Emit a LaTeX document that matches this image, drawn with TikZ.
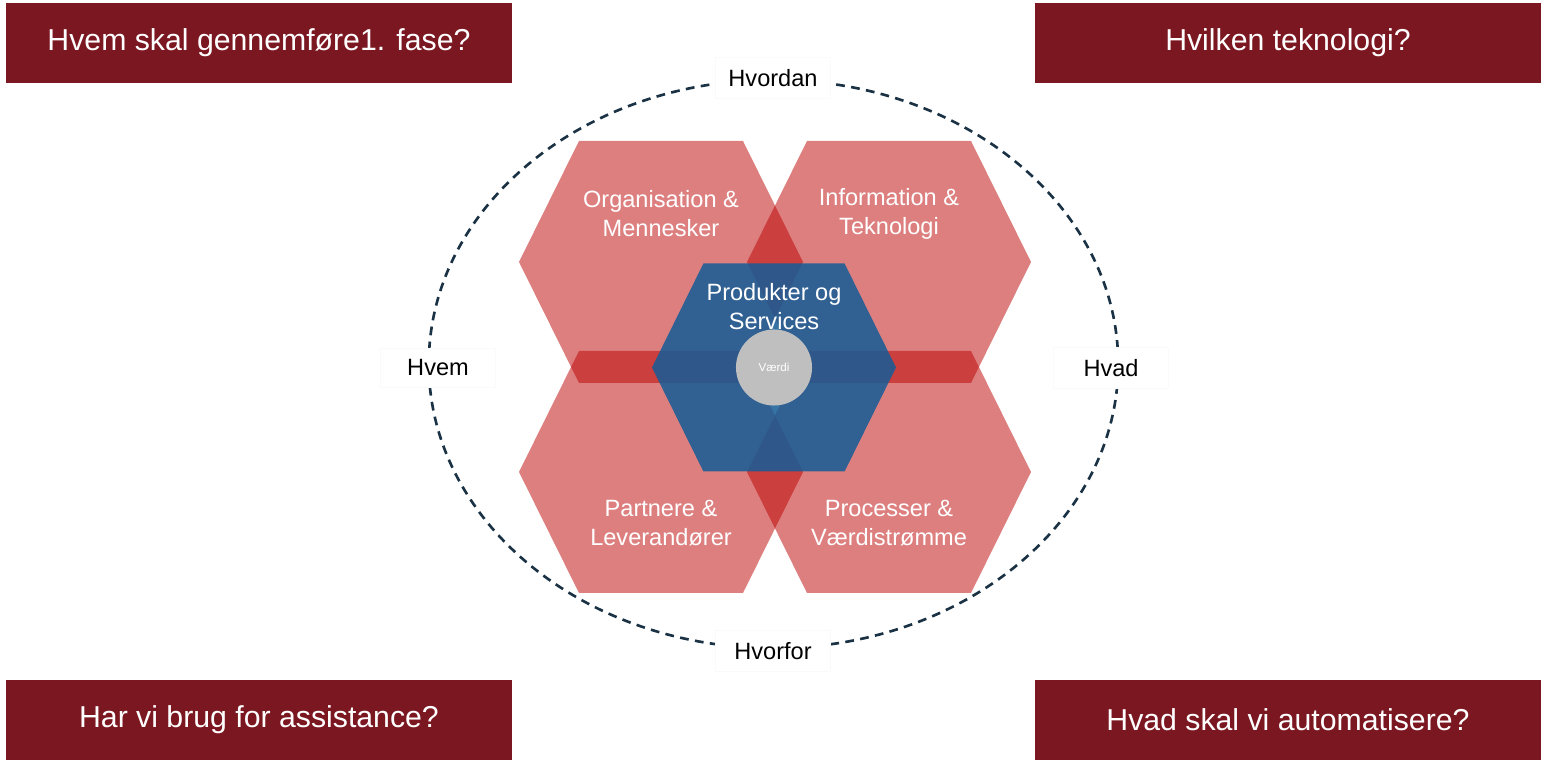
\documentclass[tikz,border=0pt]{standalone}
\usepackage{fontspec}
\setmainfont{Liberation Sans}
\usetikzlibrary{calc}
\definecolor{boxred}{RGB}{123,23,32}
\definecolor{hexred}{RGB}{187,0,0}
\definecolor{hexblue}{RGB}{21,92,150}
\definecolor{valgray}{RGB}{191,191,191}
\definecolor{ringnavy}{RGB}{26,50,68}
\tikzset{
  cornerbox/.style={fill=boxred,text=white,minimum width=5.06cm,minimum height=.8cm,
    font=\fontsize{8.6pt}{10pt}\selectfont},
  redhex/.style={fill=hexred,fill opacity=.5},
  bluehex/.style={fill=hexblue,fill opacity=.86},
  hextext/.style={text=white,align=center,font=\fontsize{6.7pt}{8.25pt}\selectfont},
  ringlabel/.style={fill=white,draw=black!2,line width=.3pt,minimum width=1.15cm,
    minimum height=.39cm,font=\fontsize{6.7pt}{8pt}\selectfont}
}
\begin{document}
\begin{tikzpicture}[x=0.01cm,y=-0.01cm]
      \useasboundingbox(0,0)rectangle(1541,764);
      % corner questions
      \node[cornerbox](fase)at(259,43){Hvem skal gennemføre1. fase?};
      \node[cornerbox](tek)at(1288,43){Hvilken teknologi?};
      \node[cornerbox](assist)at(259,720){Har vi brug for assistance?};
      \node[cornerbox](auto)at(1288,720){Hvad skal vi automatisere?};
      % ring
      \draw[ringnavy,line width=.75pt,dash pattern=on 2.5pt off 1.8pt](773.5,364)ellipse[x radius=3.445cm,y radius=2.84cm];
      \node[ringlabel](hvordan)at(773,78){Hvordan};
      \node[ringlabel](hvem)at(438,368){Hvem};
      \node[ringlabel](hvad)at(1111,368){Hvad};
      \node[ringlabel](hvorfor)at(773,651){Hvorfor};
      % hexagons
      \begin{scope}
        \coordinate(OM)at(661,262);
        \coordinate(IT)at(889,262);
        \coordinate(PL)at(661,472);
        \coordinate(PV)at(889,472);
        \coordinate(PS)at(774,367.5);
        \foreach \c in {OM,IT,PL,PV}
          \fill[redhex]($(\c)+(-142,0)$)--($(\c)+(-82,-121)$)--($(\c)+(82,-121)$)
            --($(\c)+(142,0)$)--($(\c)+(82,121)$)--($(\c)+(-82,121)$)--cycle;
        \fill[bluehex]($(PS)+(-122,0)$)--($(PS)+(-70.6,-104)$)--($(PS)+(70.6,-104)$)
          --($(PS)+(122,0)$)--($(PS)+(70.6,104)$)--($(PS)+(-70.6,104)$)--cycle;
      \end{scope}
      \node[hextext](om)at(661,214){Organisation \&\\Mennesker};
      \node[hextext](it)at(889,214){Information \&\\Teknologi};
      \node[hextext](pl)at(661,523){Partnere \&\\Leverandører};
      \node[hextext](pv)at(889,523){Processer \&\\Værdistrømme};
      \node[hextext](ps)at(774,307){Produkter og\\Services};
      \node[circle,fill=valgray,minimum size=.76cm,inner sep=0pt,text=white,
        font=\fontsize{3.3pt}{4pt}\selectfont](vaerdi)at(PS){Værdi};
\end{tikzpicture}
\end{document}
